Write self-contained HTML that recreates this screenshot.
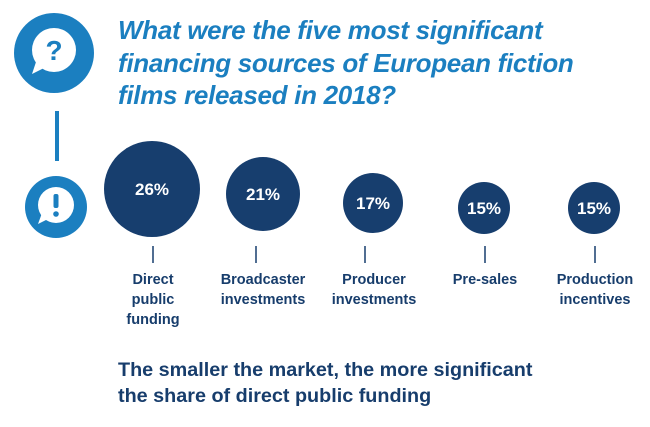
<!DOCTYPE html>
<html><head><style>
html,body{margin:0;padding:0;background:#fff;}
body{width:650px;height:427px;position:relative;overflow:hidden;font-family:"Liberation Sans",sans-serif;}
.t{position:absolute;left:118px;top:14px;color:#1b7fc0;font-style:italic;font-weight:bold;font-size:26px;line-height:32.5px;letter-spacing:-0.3px;}
.lab{position:absolute;width:120px;text-align:center;color:#173d6c;font-weight:bold;font-size:14.5px;line-height:20px;}
.b{position:absolute;left:118px;top:357px;color:#173d6c;font-weight:bold;font-size:19.8px;line-height:26px;}
</style></head><body>
<svg width="650" height="427" style="position:absolute;left:0;top:0">
<circle cx="54" cy="53" r="40" fill="#1b7fc0"/>
<circle cx="54" cy="50" r="22" fill="#fff"/>
<path d="M36 62 L32 74 L46 67 Z" fill="#fff"/>
<text x="54" y="60" text-anchor="middle" fill="#1b7fc0" font-family="Liberation Sans" font-weight="bold" font-size="28">?</text>
<rect x="55" y="111" width="4" height="50" fill="#1b7fc0"/>
<circle cx="56" cy="207" r="31" fill="#1b7fc0"/>
<circle cx="56" cy="205" r="18" fill="#fff"/>
<path d="M42 213 L38 224 L50 218 Z" fill="#fff"/>
<rect x="53.5" y="194" width="5" height="14" rx="2" fill="#1b7fc0"/>
<circle cx="56" cy="214" r="2.8" fill="#1b7fc0"/>
<g fill="#173e6e">
<circle cx="152" cy="189" r="48"/>
<circle cx="263" cy="194" r="37"/>
<circle cx="373" cy="203" r="30"/>
<circle cx="484" cy="208" r="26"/>
<circle cx="594" cy="208" r="26"/>
</g>
<g fill="#fff" font-family="Liberation Sans" font-weight="bold" font-size="17" text-anchor="middle">
<text x="152" y="195">26%</text>
<text x="263" y="200">21%</text>
<text x="373" y="209">17%</text>
<text x="484" y="214">15%</text>
<text x="594" y="214">15%</text>
</g>
<g stroke="#173e6e" stroke-width="1.5">
<line x1="153" y1="246" x2="153" y2="263"/>
<line x1="256" y1="246" x2="256" y2="263"/>
<line x1="365" y1="246" x2="365" y2="263"/>
<line x1="485" y1="246" x2="485" y2="263"/>
<line x1="595" y1="246" x2="595" y2="263"/>
</g>
</svg>
<div class="t">What were the five most significant<br>financing sources of European fiction<br>films released in 2018?</div>
<div class="lab" style="left:93px;top:270px">Direct<br>public<br>funding</div>
<div class="lab" style="left:203px;top:270px">Broadcaster<br>investments</div>
<div class="lab" style="left:314px;top:270px">Producer<br>investments</div>
<div class="lab" style="left:425px;top:270px">Pre-sales</div>
<div class="lab" style="left:535px;top:270px">Production<br>incentives</div>
<div class="b">The smaller the market, the more significant<br>the share of direct public funding</div>
</body></html>
